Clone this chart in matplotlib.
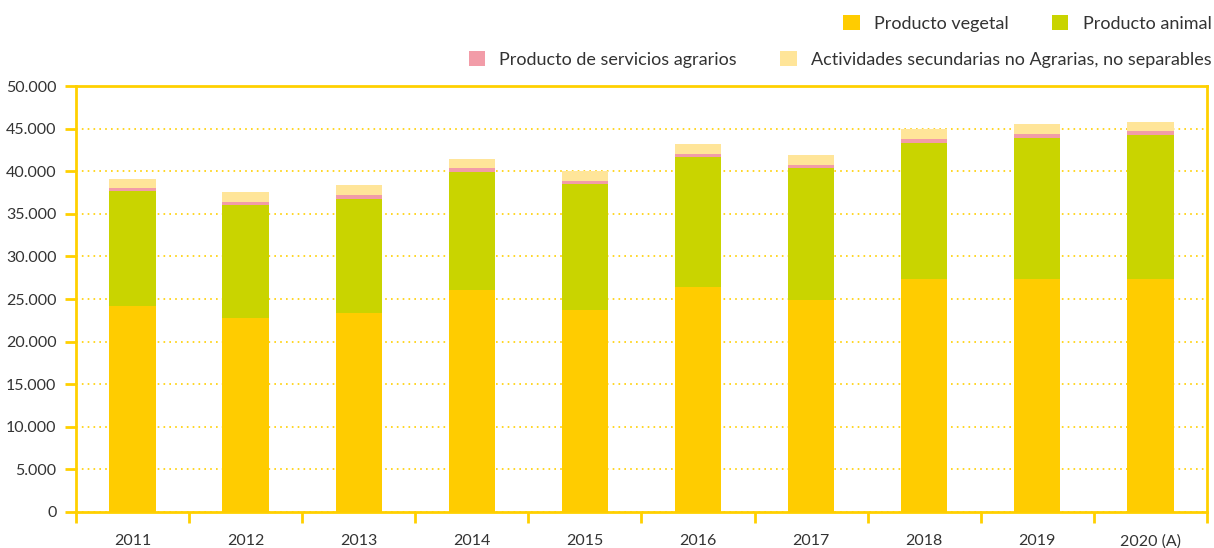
import numpy as np
import matplotlib.pyplot as plt
from matplotlib.ticker import FuncFormatter, MultipleLocator

plt.rcParams['font.family'] = ['Lato', 'DejaVu Sans']

years = ['2011', '2012', '2013', '2014', '2015', '2016', '2017', '2018', '2019', '2020 (A)']
vegetal = [24180, 22770, 23360, 26060, 23700, 26400, 24880, 27350, 27350, 27350]
animal = [13500, 13260, 13340, 13890, 14800, 15270, 15500, 15950, 16550, 16850]
servicios = [350, 350, 500, 430, 350, 330, 350, 480, 470, 520]
secundarias = [1050, 1180, 1180, 1050, 1150, 1190, 1170, 1170, 1130, 1050]

c_veg = '#FFCC00'
c_ani = '#C9D400'
c_ser = '#F29CA8'
c_sec = '#FFE599'
c_axis = '#FFD000'
c_text = '#333333'

fig = plt.figure(figsize=(12.14, 5.48), dpi=100)
ax = fig.add_axes([0.0626, 0.0657, 0.9316, 0.7773])

x = np.arange(len(years))
w = 0.41
b1 = ax.bar(x, vegetal, w, color=c_veg, zorder=3)
bottom = np.array(vegetal)
b2 = ax.bar(x, animal, w, bottom=bottom, color=c_ani, zorder=3)
bottom = bottom + np.array(animal)
b3 = ax.bar(x, servicios, w, bottom=bottom, color=c_ser, zorder=3)
bottom = bottom + np.array(servicios)
b4 = ax.bar(x, secundarias, w, bottom=bottom, color=c_sec, zorder=3)

ax.set_xlim(-0.5, len(years) - 0.5)
ax.set_ylim(0, 50000)
ax.yaxis.set_major_locator(MultipleLocator(5000))
ax.yaxis.set_major_formatter(FuncFormatter(lambda v, p: f'{int(v):,}'.replace(',', '.')))

ax.set_xticks(x)
ax.set_xticklabels(years)
ax.set_xticks(np.arange(-0.5, len(years)), minor=True)
ax.tick_params(axis='x', which='major', length=0, pad=16, labelsize=11.5, labelcolor=c_text)
ax.tick_params(axis='x', which='minor', length=8, width=2, color=c_axis)
ax.tick_params(axis='y', length=8, width=2, color=c_axis, labelsize=11.5, labelcolor=c_text, pad=6)

for s in ax.spines.values():
    s.set_color(c_axis)
    s.set_linewidth(2)

ax.grid(axis='y', linestyle=(0, (1, 2.5)), color=c_axis, linewidth=1.2, zorder=0)

leg_kw = dict(loc='upper right', ncol=2, frameon=False, fontsize=13, borderaxespad=0,
              handlelength=0.9, handleheight=0.9, handletextpad=0.8, columnspacing=2.4,
              labelcolor=c_text)
leg1 = fig.legend([b1, b2], ['Producto vegetal', 'Producto animal'],
                  bbox_to_anchor=(1.004, 0.985), **leg_kw)
leg2 = fig.legend([b3, b4], ['Producto de servicios agrarios', 'Actividades secundarias no Agrarias, no separables'],
                  bbox_to_anchor=(1.004, 0.92), **leg_kw)

fig.savefig('out.png', dpi=100)
